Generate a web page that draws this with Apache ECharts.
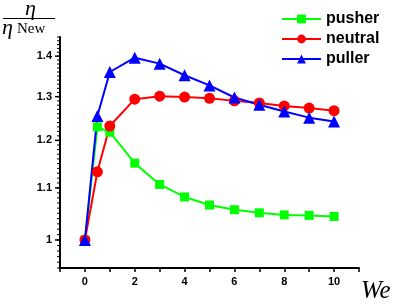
<!DOCTYPE html>
<html>
<head>
<meta charset="utf-8">
<script src="https://cdn.jsdelivr.net/npm/echarts@6/dist/echarts.min.js"></script>
<style>html,body{margin:0;padding:0;background:#fff}#c{width:399px;height:308px}</style>
</head>
<body>
<div id="c"></div>
<script>
const weValues = [0, 0.5, 1, 2, 3, 4, 5, 6, 7, 8, 9, 10];
const pusher  = [1.0, 1.230, 1.218, 1.151, 1.107, 1.082, 1.066, 1.057, 1.051, 1.047, 1.046, 1.044];
const neutral = [1.0, 1.133, 1.232, 1.294, 1.301, 1.299, 1.296, 1.290, 1.285, 1.278, 1.273, 1.267];
const puller  = [1.0, 1.255, 1.360, 1.396, 1.381, 1.352, 1.327, 1.298, 1.281, 1.265, 1.251, 1.242];
const yMajorTicks = [1, 1.1, 1.2, 1.3, 1.4];
const yMinorTicks = [];
for (let i = 95; i <= 145; i++) yMinorTicks.push(i / 100);
const xLabelTicks = [0, 2, 4, 6, 8, 10];

const pairs = arr => weValues.map((x, i) => [x, arr[i]]);
const labelFont = {fontFamily: 'Liberation Sans', fontWeight: 'bold', fontSize: 11, color: '#000'};
const gridBox = {left: 60, right: 40, top: 37, bottom: 40};

const chart = echarts.init(document.getElementById('c'));
chart.setOption({
  animation: false,
  grid: [Object.assign({}, gridBox), Object.assign({}, gridBox)],
  legend: {
    left: 276, top: 6, orient: 'vertical', itemWidth: 39, itemHeight: 11, itemGap: 4,
    textStyle: {fontFamily: 'Liberation Sans', fontWeight: 'bold', fontSize: 16, color: '#000'},
    data: ['pusher', 'neutral', 'puller']
  },
  xAxis: [{
    type: 'value', min: -1, max: 11, interval: 1,
    axisLine: {onZero: false, lineStyle: {color: '#000', width: 2}},
    axisTick: {length: 4, lineStyle: {color: '#000', width: 1.5}},
    axisLabel: Object.assign({margin: 8, formatter: v => (xLabelTicks.indexOf(v) >= 0 ? String(v) : '')}, labelFont),
    splitLine: {show: false}
  }, {
    gridIndex: 1, type: 'value', min: -1, max: 11, show: false
  }],
  yAxis: [{
    type: 'log', min: 0.95, max: 1.45,
    axisLine: {show: true, onZero: false, lineStyle: {color: '#000', width: 2}},
    axisTick: {show: false},
    axisLabel: Object.assign({margin: 0, customValues: yMajorTicks,
      formatter: v => String(Math.round(v * 10) / 10) + '{g|}{t|}',
      rich: {g: {width: 3, height: 1}, t: {width: 5, height: 1.5, backgroundColor: '#000'}}}, labelFont),
    splitLine: {show: false}
  }, {
    gridIndex: 1, type: 'log', min: 0.95, max: 1.45, position: 'left',
    axisLine: {show: false},
    axisTick: {show: false},
    axisLabel: {margin: 0, customValues: yMinorTicks, formatter: () => '{t|}',
      rich: {t: {width: 3, height: 1, lineHeight: 1, fontSize: 1, backgroundColor: '#000'}}},
    splitLine: {show: false}
  }],
  series: [
    {name: 'pusher', type: 'line', data: pairs(pusher), symbol: 'rect', symbolSize: 9,
     itemStyle: {color: '#00ff00'}, lineStyle: {width: 2, color: '#00ff00'}},
    {name: 'neutral', type: 'line', data: pairs(neutral), symbol: 'circle', symbolSize: 11,
     itemStyle: {color: '#ff0000'}, lineStyle: {width: 2, color: '#ff0000'}},
    {name: 'puller', type: 'line', data: pairs(puller), symbol: 'triangle', symbolSize: 12,
     itemStyle: {color: '#0000ff'}, lineStyle: {width: 2, color: '#0000ff'}}
  ],
  graphic: [
    {type: 'text', left: 25, top: -2, style: {text: 'η', font: 'italic 22px "Liberation Serif"', fill: '#000'}},
    {type: 'line', shape: {x1: 3, y1: 18.5, x2: 55, y2: 18.5}, style: {stroke: '#000', lineWidth: 1.2}},
    {type: 'text', left: 2, top: 17, style: {text: 'η', font: 'italic 22px "Liberation Serif"', fill: '#000'}},
    {type: 'text', left: 17, top: 22, style: {text: 'New', font: '15px "Liberation Serif"', fill: '#000'}},
    {type: 'text', left: 361, top: 279, style: {text: 'We', font: 'italic 25px "Liberation Serif"', fill: '#000'}}
  ]
});
</script>
</body>
</html>
